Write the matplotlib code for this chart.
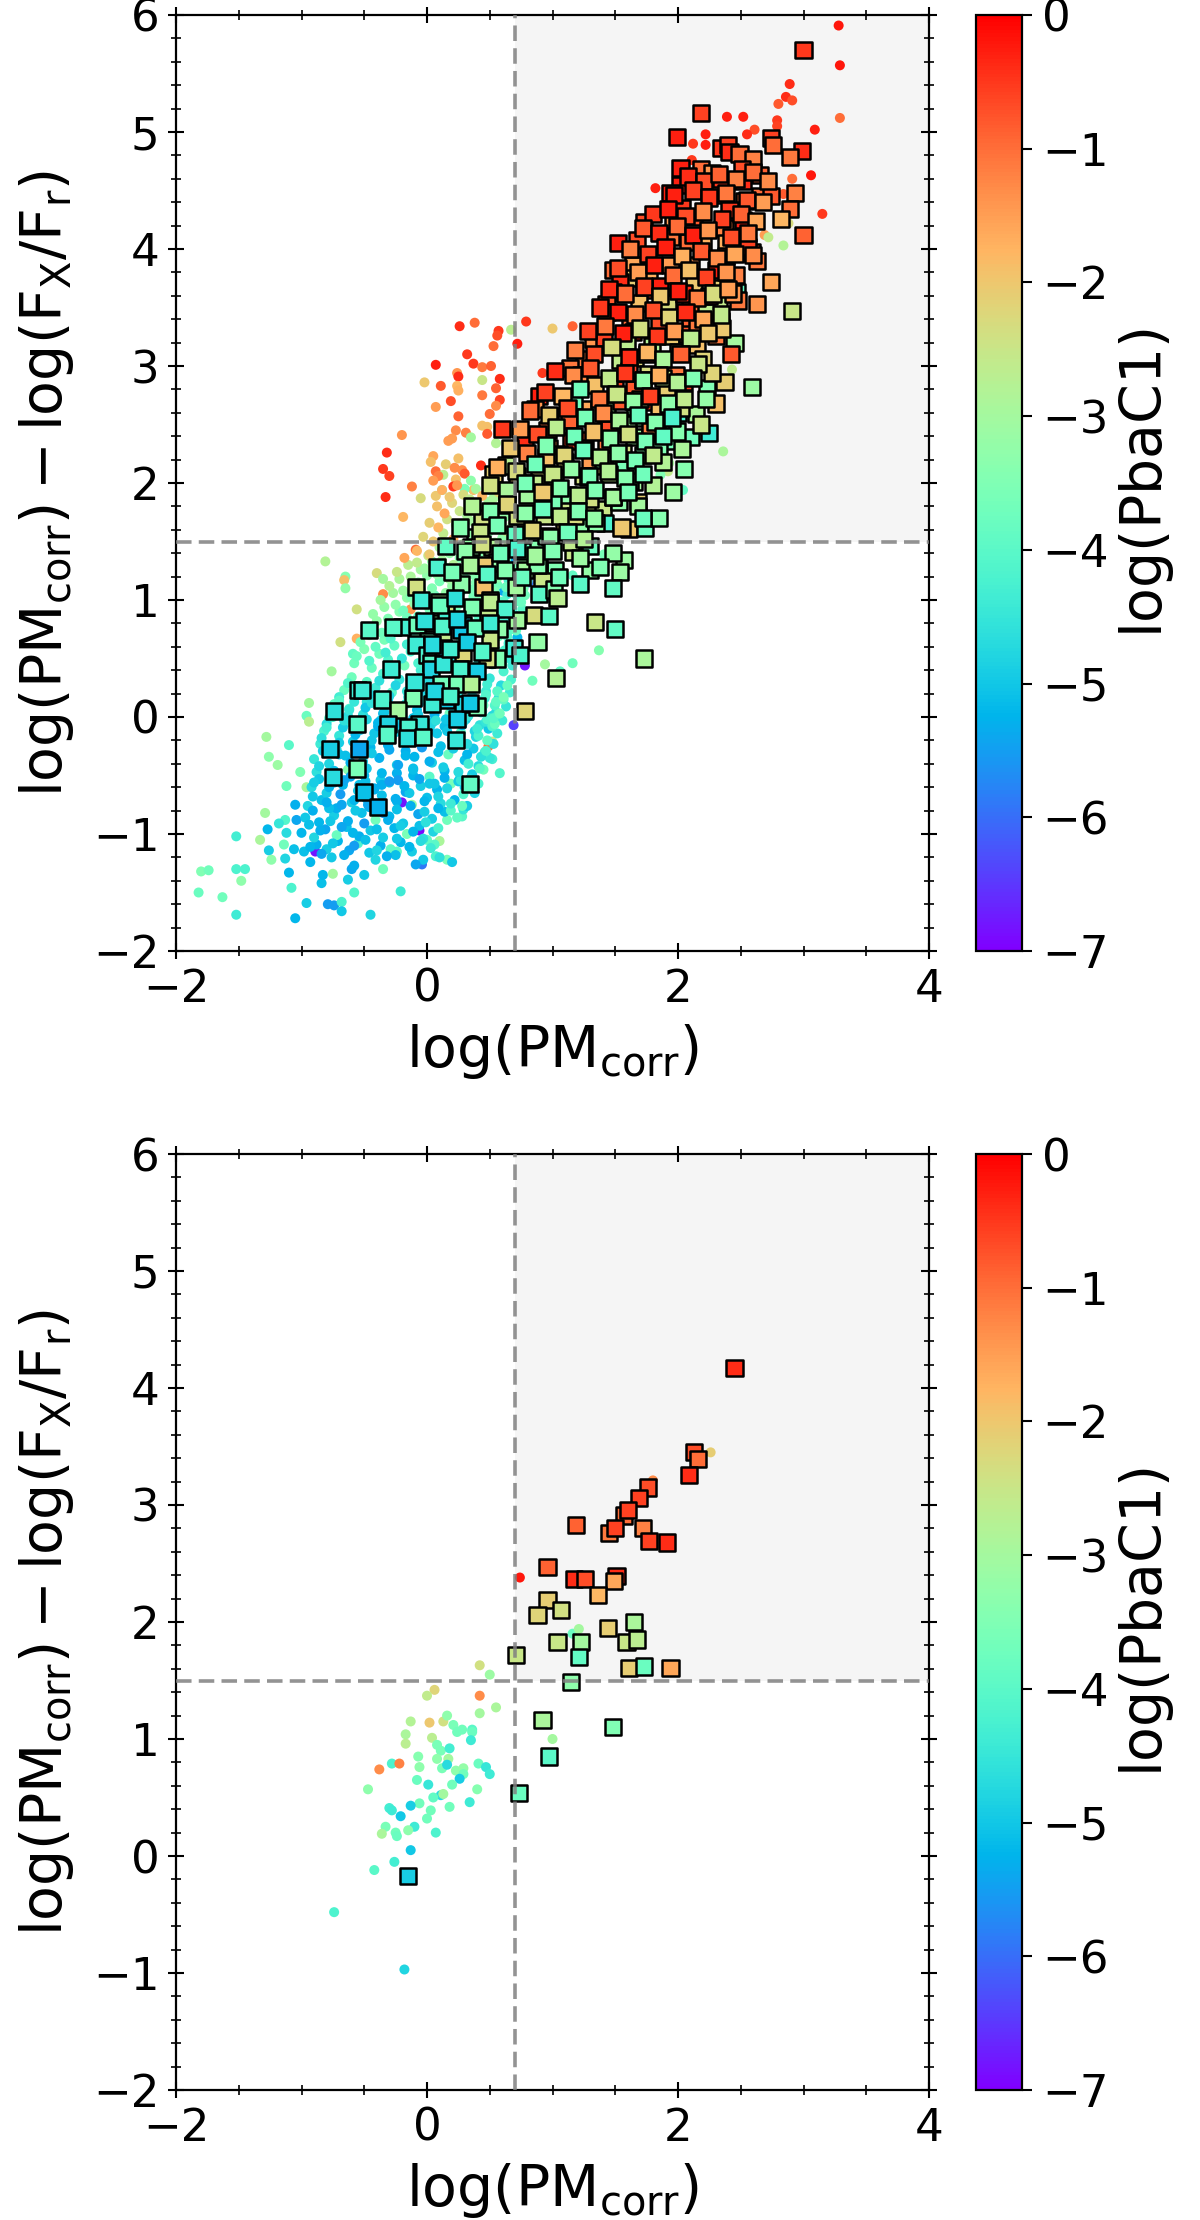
import matplotlib
matplotlib.use('Agg')
import matplotlib.pyplot as plt
from matplotlib.colors import Normalize
from matplotlib.cm import ScalarMappable
from matplotlib.ticker import MultipleLocator
from matplotlib.patches import Rectangle

plt.rcParams['mathtext.default'] = 'regular'
plt.rcParams['font.family'] = 'DejaVu Sans'

# ---- top panel: squares ----
top_sq_x = [3.0,2.18,1.99,2.74,2.76,2.99,2.89,2.34,2.40,2.41,2.49,2.60,2.02,2.18,2.27,2.51,2.65,2.34,2.52,2.02,1.94,2.29,2.53,2.65,2.93,2.74,2.03,2.89,2.41,2.13,1.96,2.82,2.52,1.73,2.37,3.0,1.67,1.52,1.94,2.08,2.38,2.2,2.59,2.38,2.63,1.48,1.64,1.77,1.94,2.1,2.3,2.46,1.65,1.54,1.86,2.13,2.33,2.74,2.47,1.73,1.48,1.43,1.92,2.1,1.69,2.33,2.63,2.48,2.91,1.43,1.62,1.91,2.10,2.22,2.34,1.64,1.32,1.41,1.59,1.79,1.94,2.07,2.15,2.30,2.45,1.25,1.66,1.54,1.14,1.23,1.61,1.76,1.98,1.34,2.37,2.23,2.59,1.5,1.65,1.91,0.89,2.30,1.76,1.91,0.86,1.24,1.43,1.17,1.66,2.14,2.0,0.98,1.13,1.56,0.60,0.76,1.83,1.43,0.96,2.25,2.1,1.65,1.26,1.15,1.43,0.78,1.95,1.75,0.97,1.85,2.03,1.05,1.3,1.54,1.41,0.63,0.53,0.89,1.02,1.24,1.65,0.72,
 0.44,0.38,0.35,0.52,0.64,0.78,0.93,1.10,1.29,1.40,1.53,1.68,1.61,1.74,1.42,1.22,1.09,0.87,0.76,0.56,0.45,1.16,1.57,1.54,1.30,1.02,0.89,0.78,0.27,-0.09,0.45,0.71,0.92,1.22,1.48,0.89,1.01,1.04,0.5,0.15,0.10,0.49,0.85,0.97,0.03,0.15,0.29,-0.2,-0.27,-0.46,-0.08,0.27,0.13,0.57,0.72,1.34,1.5,0.88,0.5,0.69,0.74,0.01,-0.09,0.13,0.29,0,0.56,0.48,1.73,0.03,-0.29,0.03,0.13,0.26,0.4,1.03,0.11,0.24,0.35,-0.55,-0.52,-0.36,-0.11,0.15,0.04,-0.23,0.29,0.40,0.78,-0.74,-0.56,-0.31,-0.06,-0.15,0.24,-0.32,-0.16,-0.03,0.23,-0.77,-0.54,-0.56,-0.75,0.34,-0.5,-0.39,
 2.05,2.25,2.44,2.56,1.85,2.15,2.35,2.60,1.75,2.0,2.2,2.42,1.72,1.88,2.05,2.27,1.55,1.70,1.85,2.02,2.22,1.45,1.60,1.78,1.99,2.18,1.25,1.40,1.56,1.72,1.88,2.05,1.10,1.28,1.45,1.62,1.80,1.96,0.95,1.12,1.30,1.48,1.68,1.85,0.85,1.00,1.18,1.35,1.55,1.72,0.80,0.95,1.15,1.30,1.48,0.72,0.88,1.05,1.22,1.38]
top_sq_y = [5.70,5.16,4.96,4.95,4.89,4.84,4.79,4.86,4.89,4.83,4.81,4.77,4.69,4.68,4.65,4.68,4.63,4.57,4.58,4.55,4.48,4.46,4.41,4.45,4.48,4.45,4.35,4.34,4.33,4.27,4.25,4.26,4.25,4.23,4.18,4.12,4.08,4.05,4.10,4.06,4.05,4.04,3.97,3.94,3.90,3.82,3.86,3.81,3.86,3.86,3.82,3.78,3.75,3.72,3.68,3.71,3.67,3.72,3.63,3.65,3.63,3.53,3.54,3.52,3.54,3.55,3.53,3.56,3.47,3.46,3.40,3.40,3.38,3.46,3.38,3.29,3.23,3.24,3.21,3.17,3.26,3.27,3.18,3.26,3.2,3.06,3.07,3.05,2.98,2.92,2.96,2.93,2.92,2.84,2.86,2.81,2.82,2.80,2.80,2.80,2.74,2.68,2.69,2.67,2.63,2.63,2.62,2.70,2.56,2.59,2.60,2.57,2.54,2.51,2.46,2.39,2.46,2.46,2.45,2.43,2.39,2.39,2.37,2.36,2.34,2.34,2.36,2.32,2.30,2.29,2.29,2.25,2.2,2.17,2.15,2.15,2.08,2.06,2.02,2.06,2.01,2.06,
 1.70,1.54,1.45,1.45,1.81,1.67,1.72,1.78,1.76,1.78,1.84,1.84,1.61,1.62,1.66,1.63,1.6,1.44,1.42,1.32,1.30,1.41,1.34,1.24,1.26,1.26,1.27,1.26,1.14,1.11,1.11,1.11,1.16,1.14,1.10,1.05,1.09,1.02,1.0,0.96,0.98,0.89,0.87,0.86,0.80,0.83,0.79,0.77,0.77,0.74,0.79,0.74,0.72,0.75,0.83,0.81,0.75,0.64,0.66,0.59,0.53,0.65,0.62,0.59,0.55,0.53,0.50,0.50,0.50,0.46,0.41,0.41,0.45,0.41,0.39,0.33,0.28,0.28,0.28,0.23,0.23,0.15,0.16,0.15,0.11,0.06,0.11,0.09,0.05,0.05,-0.06,-0.06,-0.06,-0.09,-0.02,-0.15,-0.18,-0.17,-0.2,-0.27,-0.27,-0.44,-0.51,-0.57,-0.64,-0.77,
 3.62,3.60,3.62,4.02,3.35,3.34,3.32,3.95,3.10,3.12,3.06,3.10,2.88,2.90,2.86,2.94,2.70,2.72,2.66,2.64,2.72,2.46,2.50,2.48,2.44,2.50,2.30,2.20,2.26,2.24,2.18,2.12,2.18,2.05,2.08,2.02,1.98,1.92,2.22,1.90,1.86,1.88,1.80,1.70,2.00,1.85,1.72,1.66,1.62,1.70,1.90,1.55,1.50,1.46,1.40,1.72,1.30,1.20,1.36,1.28]
top_sq_c = [-0.5,-0.6,-0.3,-0.6,-1.0,-0.4,-1.1,-0.5,-0.6,-0.4,-1.0,-1.2,-0.3,-1.0,-1.4,-0.7,-0.9,-0.5,-0.4,-0.3,-0.3,-1.3,-1.0,-1.0,-1.2,-0.8,-0.5,-1.0,-0.5,-0.8,-1.5,-1.8,-0.3,-0.7,-1.2,-0.9,-0.7,-0.3,-1.1,-1.0,-1.7,-1.7,-0.6,-0.8,-1.1,-1.0,-1.6,-1.7,-1.5,-1.4,-0.3,-1.2,-2.1,-0.4,-0.3,-2,-2.1,-1.6,-3.9,-0.5,-1.0,-0.8,-2.3,-1.0,-1.9,-2.6,-1.4,-1.1,-2.5,-1.5,-1.0,-2.5,-0.9,-2.7,-0.4,-0.3,-1.4,-0.6,-2.7,-2.8,-2.0,-0.8,-1.9,-1.1,-3.0,-1.1,-2.2,-2.6,-1.1,-1.3,-0.6,-2.3,-1.1,-1.9,-2.1,-3.5,-3.1,-0.6,-0.8,-2.1,-0.3,-1.9,-0.6,-0.3,-1.4,-1.6,-3.0,-3.7,-3.3,-2.9,-4.2,-0.8,-0.9,-2.3,-0.5,-1.2,-3.5,-3.0,-1.0,-4.4,-3.7,-3.1,-0.7,-0.5,-1.1,-0.4,-3.6,-3.2,-1.2,-3.5,-2.9,-3.9,-1.5,-3.6,-2.1,-2.7,-2.1,-2.2,-3.3,-2.4,-3,-2.0,
 -2.4,-3.2,-3.2,-2.8,-2.2,-1.9,-2.5,-2.5,-2.3,-2.5,-3.3,-2.1,-2.0,-3.8,-4.2,-3.3,-2.0,-3.4,-3.8,-3.2,-2.0,-2.5,-3.1,-3.1,-3.2,-3.5,-3.5,-3,-3.3,-2.4,-1.9,-3.0,-2.5,-4.0,-3.9,-4.0,-3.4,-2.7,-2.2,-2.4,-2.8,-2.6,-2.3,-4.0,-3.2,-4.3,-5,-4.3,-4,-4.0,-3.7,-5.0,-2.6,-3.3,-3.0,-2.5,-3.9,-3.2,-2.5,-4.4,-4.2,-3.7,-4.4,-5.0,-2.2,-4.2,-3.5,-2.4,-2.9,-4,-4.4,-4.8,-4.5,-4.2,-4.9,-2.8,-3.7,-3.6,-2.8,-4.4,-4.4,-4.2,-3.5,-5.0,-4.4,-3.0,-4.8,-3.5,-2.2,-4.6,-4.0,-4.8,-4.5,-4.2,-4.9,-4.0,-4.6,-4.0,-4.5,-4.9,-5.4,-3.6,-4.7,-3.9,-5.1,-5.3,
 -0.4,-0.9,-1.4,-0.6,-0.7,-1.1,-2.0,-1.3,-0.5,-1.6,-2.2,-0.8,-1.2,-2.6,-0.6,-2.2,-0.8,-2.8,-1.9,-2.4,-3.2,-0.7,-3.0,-1.2,-3.4,-2.5,-1.5,-3.2,-2.4,-3.5,-2.8,-3.4,-2.2,-3.0,-2.6,-3.6,-2.8,-3.1,-1.9,-3.3,-2.4,-3.7,-3.0,-3.4,-2.6,-3.6,-2.3,-3.3,-2.0,-3.8,-3.0,-3.5,-2.6,-3.8,-3.2,-2.4,-3.4,-3.7,-3.1,-3.5]

# more squares of the dense band, read row by row
band_sq_x = [2.08,2.21,2.33,2.46,2.60,2.72,
 1.97,2.12,2.25,2.38,2.55,2.68,
 1.80,1.92,2.06,2.20,2.35,2.50,2.62,
 1.72,1.85,1.99,2.12,2.24,2.42,2.56,
 1.62,1.76,1.90,2.03,2.18,2.31,2.45,
 1.52,1.68,1.81,1.96,2.09,2.22,2.38,
 1.45,1.58,1.73,1.86,2.00,2.15,2.28,2.40,
 1.38,1.52,1.66,1.80,1.93,2.06,2.20,2.34,
 1.28,1.42,1.56,1.70,1.83,1.97,2.10,2.24,
 1.18,1.33,1.47,1.61,1.75,1.88,2.02,2.16,
 1.02,1.16,1.30,1.45,1.58,1.72,1.85,1.99,2.12,
 0.94,1.08,1.22,1.37,1.51,1.64,1.78,1.92,2.05,
 0.82,0.97,1.12,1.26,1.40,1.53,1.68,1.82,1.95,
 0.74,0.88,1.03,1.17,1.32,1.46,1.60,1.74,1.88,
 0.66,0.80,0.95,1.09,1.24,1.38,1.52,1.66,1.80,
 0.56,0.71,0.86,1.00,1.15,1.29,1.44,1.58,1.72,
 0.50,0.64,0.78,0.92,1.06,1.20,1.34,1.48,1.60,
 0.36,0.50,0.64,0.78,0.92,1.06,1.20,1.33,
 0.26,0.42,0.56,0.70,0.84,0.98,1.12,1.25,
 0.15,0.30,0.44,0.58,0.72,0.86,1.00,
 0.08,0.20,0.34,0.48,0.62,0.76,
 -0.05,0.10,0.22,0.36,0.50,0.62,
 -0.02,0.12,0.24,0.38,0.50,
 0.04,0.18,0.32,0.44,
 -0.10,0.06,0.18,0.34]
band_sq_y = [4.62,4.58,4.64,4.60,4.66,4.58,
 4.46,4.50,4.44,4.48,4.42,4.40,
 4.30,4.34,4.28,4.32,4.26,4.30,4.24,
 4.18,4.14,4.20,4.12,4.16,4.10,4.14,
 4.00,3.96,4.02,3.94,3.98,3.92,3.96,
 3.84,3.80,3.86,3.78,3.82,3.76,3.80,
 3.66,3.62,3.68,3.60,3.64,3.58,3.62,3.66,
 3.50,3.46,3.44,3.48,3.42,3.46,3.40,3.44,
 3.30,3.34,3.28,3.32,3.26,3.30,3.24,3.28,
 3.14,3.10,3.16,3.08,3.12,3.06,3.10,3.02,
 2.96,2.92,2.98,2.90,2.94,2.88,2.92,2.86,2.90,
 2.78,2.74,2.80,2.72,2.76,2.70,2.74,2.68,2.72,
 2.62,2.58,2.64,2.56,2.60,2.54,2.58,2.52,2.56,
 2.46,2.42,2.48,2.40,2.44,2.38,2.42,2.36,2.40,
 2.30,2.26,2.32,2.24,2.28,2.22,2.26,2.20,2.24,
 2.14,2.10,2.16,2.08,2.12,2.06,2.10,2.04,2.08,
 1.98,1.94,2.00,1.92,1.96,1.90,1.94,1.88,1.92,
 1.80,1.76,1.82,1.74,1.78,1.72,1.76,1.70,
 1.62,1.58,1.64,1.56,1.60,1.54,1.58,1.52,
 1.46,1.42,1.48,1.40,1.44,1.38,1.42,
 1.28,1.24,1.30,1.22,1.26,1.20,
 1.00,0.96,1.02,0.94,0.98,0.92,
 0.82,0.78,0.84,0.76,0.80,
 0.62,0.58,0.64,0.56,
 0.30,0.22,0.18,0.12]
band_sq_c = [-0.4,-0.7,-0.9,-1.2,-1.0,-1.3,
 -0.3,-0.6,-0.5,-1.1,-0.8,-1.5,
 -0.5,-0.3,-0.7,-1.3,-0.6,-0.9,-1.6,
 -0.8,-0.4,-1.0,-0.3,-1.4,-0.7,-1.1,
 -1.2,-0.6,-0.3,-1.7,-0.8,-1.3,-1.6,
 -0.7,-1.5,-0.3,-1.0,-1.9,-0.6,-1.4,
 -0.4,-1.0,-0.6,-2.0,-0.3,-1.2,-2.3,-1.5,
 -0.5,-0.3,-1.3,-0.7,-2.2,-0.4,-1.6,-2.6,
 -0.6,-1.1,-0.3,-2.4,-0.5,-1.5,-2.7,-2.0,
 -1.2,-0.7,-2.3,-0.4,-1.8,-2.9,-0.9,-2.5,
 -0.4,-1.3,-0.8,-2.6,-0.5,-3.3,-1.7,-2.8,-3.5,
 -0.6,-1.8,-3.7,-1.1,-2.5,-3.2,-0.6,-3.3,-2.6,
 -1.0,-2.1,-0.7,-3.6,-1.3,-2.9,-3.8,-3.4,-4.2,
 -1.5,-0.7,-2.7,-3.7,-1.9,-3.3,-2.4,-3.6,-3.9,
 -2.0,-1.2,-3.5,-2.2,-3.8,-2.8,-3.3,-3.6,-2.6,
 -1.7,-2.3,-3.7,-2.5,-3.2,-3.6,-2.8,-3.4,-3.7,
 -2.4,-2.9,-3.6,-2.0,-3.4,-2.7,-3.5,-3.0,-3.6,
 -2.8,-3.5,-2.2,-3.3,-3.8,-2.6,-3.5,-3.2,
 -3.4,-2.5,-3.6,-3.9,-2.2,-3.3,-3.7,-2.8,
 -3.9,-3.3,-2.4,-3.7,-4.2,-3.0,-3.5,
 -4.2,-3.6,-2.9,-4.0,-3.4,-3.8,
 -4.4,-3.8,-4.6,-3.5,-2.7,-4.2,
 -4.6,-4.1,-4.8,-3.8,-4.4,
 -4.7,-4.3,-4.9,-4.1,
 -4.5,-4.8,-4.2,-5.0]

# ---- top panel: scattered circles ----
top_ci_x = [3.28,3.29,2.89,2.86,2.91,2.80,3.29,2.39,2.52,2.79,2.79,3.09,2.61,2.55,2.22,2.12,2.22,3.06,2.91,1.82,3.15,1.84,2.69,2.72,2.84,2.88,1.60,2.11,2.84,2.17,2.43,2.24,2.36,2.04,1.92,1.86,1.93,
 0.26,0.38,0.57,0.56,0.79,0.67,1.0,1.16,0.72,0.53,0.32,0.37,0.07,0.44,0.51,0.92,0.24,0.25,0.58,0.44,-0.02,0.11,0.55,0.24,0.25,0.44,0.58,0.19,0.55,0.07,0.50,0.25,0.44,0.48,0.23,0.31,-0.2,0.48,0.35,0.2,0.17,0.55,-0.32,0.05,0.25,0.03,0.15,0.43,-0.35,-0.3,0.07,0.22,0.28,0.3,0.13,0.09,0.05,0.23,0.35,-0.12,0.21,0.12,0.37,0.3,0.5,-0.33,-0.05,0.07,
 -0.81,-0.65,-0.66,-0.65,-0.4,-0.35,-0.56,-0.69,-0.56,-0.59,-0.76,-0.94,-0.96,-0.94,-1.28,-1.10,-1.26,-1.19,-1.01,-1.12,-0.96,-1.29,-1.05,-1.04,-1.13,-1.18,-1.27,-1.52,-1.33,-1.12,-1.14,-1.06,-1.26,-1.24,-1.13,-0.89,-1.80,-1.74,-1.52,-1.45,-1.48,-1.82,-1.63,-1.52,-1.10,-1.08,-0.96,-1.05,-0.79,-0.74,-0.68,-0.68,-0.58,-0.63,-0.84,-0.83,-0.75,-0.60,-0.5,-0.35,-0.45,-0.21,-0.04,-0.03,0.07,0.16,0,0.1,0.06,-0.06,-0.24,-0.2,0.16,0.28,0.29,0.58,0.52,0.49,0.52,0.69,0.84,0.94,1.06,1.16,1.37,0.78,1.41,1.16,0.81,0.6,0.63,-0.09,-0.13,-0.35,-0.19]
top_ci_y = [5.91,5.57,5.41,5.30,5.27,5.24,5.12,5.13,5.13,5.10,5.05,5.02,5.02,4.98,4.98,4.90,4.89,4.63,4.60,4.52,4.30,4.16,4.12,4.10,4.03,4.22,3.97,4.76,4.47,3.03,2.97,2.93,2.27,1.94,2.1,2.07,2.17,
 3.34,3.37,3.30,3.26,3.38,3.31,3.32,3.34,3.19,3.17,3.10,3.02,3.01,2.99,3.0,2.94,2.94,2.91,2.89,2.88,2.86,2.83,2.81,2.83,2.79,2.75,2.71,2.70,2.66,2.65,2.59,2.57,2.49,2.48,2.45,2.43,2.41,2.42,2.39,2.38,2.36,2.34,2.26,2.23,2.21,2.18,2.16,2.15,2.12,2.06,2.10,2.13,2.11,2.08,2.07,2.06,2.02,2.03,2.02,1.97,1.97,1.94,1.94,1.95,1.94,1.88,1.87,1.89,
 1.33,1.2,1.17,1.10,1.23,1.18,0.92,0.64,0.67,0.54,0.39,0.12,0.01,-0.04,-0.17,-0.24,-0.34,-0.41,-0.47,-0.59,-0.6,-0.82,-0.75,-0.88,-0.88,-0.91,-0.96,-1.02,-1.05,-0.99,-1.09,-1.13,-1.14,-1.22,-1.21,-1.15,-1.32,-1.31,-1.30,-1.30,-1.40,-1.50,-1.54,-1.69,-1.33,-1.46,-1.59,-1.72,-1.60,-1.61,-1.58,-1.66,-1.50,-1.39,-1.42,-1.35,-1.34,-1.30,-1.35,-1.30,-1.69,-1.49,-1.26,-1.22,-1.19,-1.22,-1.05,-1.06,-1.09,-0.97,-1.15,-0.73,-0.88,-0.85,-0.79,-0.48,-0.36,-0.25,-0.21,-0.07,0.31,0.45,0.39,0.46,0.57,0.44,1.39,1.21,1.15,1.08,1.59,1.43,0.92,1.05,1.71]
top_ci_c = [-0.2,-0.2,-0.4,-0.4,-0.7,-0.8,-1.0,-0.3,-0.3,-0.5,-0.6,-0.3,-0.7,-0.4,-0.3,-0.5,-0.3,-0.2,-1.0,-0.3,-0.5,-0.4,-1.5,-2.6,-2.8,-2.3,-0.3,-0.5,-0.8,-2.6,-2.6,-2.5,-2.9,-3.9,-2.6,-3.5,-3.0,
 -0.4,-1.0,-0.5,-0.7,-0.5,-2.7,-2.0,-0.9,-0.3,-1.0,-0.5,-0.5,-0.3,-1.1,-0.9,-0.5,-1.4,-0.4,-0.4,-2.5,-2.0,-0.8,-0.9,-1.8,-1.7,-1.1,-0.6,-0.7,-1.3,-1.5,-1.0,-0.9,-1.9,-1.9,-1.3,-1.2,-1.4,-0.8,-3.0,-1.5,-1.5,-2.8,-0.4,-1.6,-1.9,-1.9,-2.1,-0.4,-0.5,-0.6,-1.0,-1.3,-1.3,-0.8,-2.7,-1.2,-1.5,-1.9,-3.3,-1.2,-0.5,-3.9,-1.9,-3.6,-4.3,-0.4,-2.3,-2.0,
 -2.8,-3.4,-1.9,-3.2,-2.3,-3.0,-2.4,-2.4,-1.7,-3.9,-3.0,-3.0,-3.8,-2.7,-3.0,-4.0,-3.3,-3.1,-3.5,-3.7,-2.9,-3.0,-5.3,-5.4,-4.1,-4.5,-5.2,-4.3,-2.9,-4.7,-3.7,-5.1,-4.9,-3.3,-4.8,-6.8,-3.5,-3.7,-4.2,-4.2,-3.3,-3.8,-3.7,-4.4,-5.2,-4.2,-4.9,-5.2,-5.5,-5.5,-4.2,-5.0,-4.1,-4.9,-5.1,-5.2,-3.0,-5.4,-5.0,-3.7,-4.8,-4.4,-5.9,-5.0,-4.2,-3.6,-3.9,-2.9,-4.0,-6.9,-3.9,-6.8,-3.7,-4.0,-4.5,-4.1,-4.3,-1.0,-2.5,-6.4,-3.7,-3.0,-3.9,-3.7,-3.4,-6.8,-3.6,-3.9,-5.9,-5.4,-5.4,-1.0,-1.4,-1.3,-1.8]

# ---- top panel: dense cloud of circles, read row by row ----
cloud_x = [-0.98,-0.88,-0.80,-0.71,-0.62,-0.55,-0.46,-0.37,-0.29,-0.21,-0.12,-0.03,
 -1.00,-0.90,-0.81,-0.72,-0.64,-0.54,-0.45,-0.35,-0.26,-0.16,-0.06,0.05,
 -0.97,-0.86,-0.74,-0.63,-0.52,-0.41,-0.30,-0.19,-0.07,0.04,0.14,0.24,
 -0.95,-0.84,-0.72,-0.60,-0.48,-0.36,-0.24,-0.12,0.00,0.11,0.22,0.32,
 -0.92,-0.80,-0.67,-0.55,-0.42,-0.30,-0.17,-0.05,0.08,0.19,0.30,0.38,
 -0.88,-0.76,-0.63,-0.50,-0.37,-0.24,-0.11,0.02,0.14,0.26,0.36,0.45,
 -0.90,-0.78,-0.65,-0.51,-0.38,-0.24,-0.10,0.04,0.17,0.30,0.41,0.50,
 -0.85,-0.72,-0.59,-0.45,-0.31,-0.17,-0.03,0.11,0.24,0.37,0.46,0.53,
 -0.82,-0.70,-0.56,-0.42,-0.28,-0.14,0.00,0.14,0.27,0.39,0.49,0.56,
 -0.78,-0.65,-0.51,-0.37,-0.23,-0.09,0.05,0.18,0.31,0.42,0.52,0.60,
 -0.74,-0.62,-0.48,-0.34,-0.20,-0.06,0.08,0.21,0.34,0.45,0.55,0.63,
 -0.66,-0.54,-0.41,-0.28,-0.15,-0.02,0.11,0.24,0.36,0.47,0.57,0.66,
 -0.60,-0.48,-0.35,-0.22,-0.09,0.04,0.16,0.28,0.39,0.50,0.59,0.67,
 -0.58,-0.44,-0.31,-0.18,-0.05,0.08,0.20,0.31,0.42,0.52,0.61,0.68,
 -0.50,-0.38,-0.26,-0.13,0.00,0.12,0.24,0.35,0.46,0.55,0.63,0.70,
 -0.46,-0.34,-0.22,-0.09,0.04,0.16,0.27,0.38,0.48,0.57,0.65,0.72,
 -0.40,-0.28,-0.16,-0.04,0.08,0.20,0.31,0.41,0.51,0.60,0.67,0.74,
 -0.34,-0.22,-0.10,0.02,0.13,0.24,0.34,0.44,0.53,0.62,0.70,0.76,
 -0.27,-0.16,-0.05,0.06,0.17,0.27,0.37,0.46,0.55,0.64,0.72,0.78,
 -0.22,-0.11,0.00,0.10,0.20,0.30,0.39,0.48,0.56,0.65,0.72,0.80,
 -0.15,-0.05,0.04,0.14,0.23,0.32,0.41,0.49,0.57,0.64,0.70,0.76,
 -0.08,0.01,0.10,0.18,0.26,0.34,0.42,0.49,0.55,0.61,0.67,0.72,
 -0.03,0.05,0.13,0.21,0.29,0.36,0.43,0.49,0.54,0.60,0.65,0.70,
 0.02,0.09,0.16,0.23,0.30,0.37,0.43,0.48,0.53,0.58,0.63,0.68,
 0.08,0.14,0.20,0.26,0.32,0.38,0.44,0.49,0.54,0.58,0.62,0.66,
 0.12,0.18,0.24,0.29,0.34,0.39,0.44,0.49,0.53,0.57,0.61,0.64,
 -0.93,-0.76,-0.58,-0.41,-0.25,-0.09,0.10,0.20,
 -0.91,-0.78,-0.68,-0.57,-0.46,-0.35,-0.24,-0.13,-0.02,0.09,0.19,0.28,
 -0.86,-0.74,-0.61,-0.49,-0.36,-0.23,-0.11,0.02,0.14,0.25,0.34,0.41,
 -0.83,-0.70,-0.57,-0.44,-0.30,-0.17,-0.04,0.09,0.21,0.32,0.43,0.47,
 -0.80,-0.67,-0.53,-0.39,-0.25,-0.11,0.02,0.15,0.28,0.38,0.47,0.52,
 -0.76,-0.63,-0.49,-0.35,-0.21,-0.08,0.06,0.19,0.32,0.43,0.50,0.57,
 -0.70,-0.58,-0.45,-0.31,-0.17,-0.04,0.10,0.22,0.35,0.46,0.54,0.61,
 -0.63,-0.51,-0.38,-0.25,-0.12,0.01,0.14,0.26,0.37,0.48,0.56,0.64,
 -0.56,-0.46,-0.33,-0.20,-0.07,0.06,0.18,0.30,0.41,0.51,0.60,0.66,
 -0.53,-0.41,-0.29,-0.16,-0.02,0.10,0.22,0.33,0.44,0.53,0.62,0.69,
 -0.48,-0.36,-0.24,-0.11,0.02,0.14,0.25,0.36,0.47,0.56,0.64,0.71,
 -0.43,-0.31,-0.19,-0.07,0.06,0.18,0.29,0.39,0.49,0.58,0.66,0.73,
 -0.37,-0.25,-0.13,-0.01,0.11,0.22,0.32,0.42,0.52,0.61,0.68,0.75,
 -0.30,-0.19,-0.07,0.04,0.15,0.25,0.35,0.45,0.54,0.63,0.71,0.77,
 -0.24,-0.13,-0.02,0.08,0.18,0.28,0.38,0.47,0.56,0.64,0.71,0.79,
 -0.18,-0.08,0.02,0.12,0.21,0.31,0.40,0.48,0.56,0.63,0.71,0.77]
cloud_y = [-1.15,-1.09,-1.13,-1.06,-1.14,-1.08,-1.16,-1.10,-1.13,-1.07,-1.15,-1.04,
 -0.99,-1.03,-0.96,-1.01,-0.94,-1.02,-0.97,-1.03,-0.95,-1.00,-0.93,-0.98,
 -0.86,-0.90,-0.84,-0.89,-0.82,-0.88,-0.85,-0.91,-0.83,-0.87,-0.81,-0.86,
 -0.76,-0.71,-0.78,-0.73,-0.70,-0.77,-0.72,-0.75,-0.69,-0.74,-0.71,-0.76,
 -0.60,-0.65,-0.58,-0.63,-0.61,-0.56,-0.64,-0.59,-0.62,-0.57,-0.60,-0.65,
 -0.47,-0.52,-0.45,-0.50,-0.54,-0.48,-0.44,-0.51,-0.46,-0.53,-0.49,-0.45,
 -0.36,-0.40,-0.33,-0.38,-0.35,-0.41,-0.34,-0.39,-0.32,-0.37,-0.42,-0.35,
 -0.23,-0.28,-0.21,-0.26,-0.24,-0.29,-0.20,-0.25,-0.22,-0.27,-0.30,-0.23,
 -0.12,-0.16,-0.09,-0.14,-0.18,-0.11,-0.15,-0.08,-0.13,-0.17,-0.10,-0.14,
 -0.01,-0.05,0.02,-0.03,-0.06,0.00,-0.04,0.03,-0.02,-0.07,0.01,-0.03,
 0.11,0.07,0.13,0.09,0.05,0.12,0.08,0.14,0.06,0.10,0.04,0.09,
 0.23,0.19,0.25,0.21,0.17,0.24,0.20,0.26,0.18,0.22,0.16,0.21,
 0.34,0.30,0.37,0.32,0.28,0.35,0.31,0.38,0.29,0.33,0.27,0.32,
 0.46,0.42,0.49,0.44,0.40,0.47,0.43,0.50,0.41,0.45,0.39,0.44,
 0.58,0.54,0.61,0.56,0.52,0.59,0.55,0.62,0.53,0.57,0.51,0.56,
 0.70,0.66,0.73,0.68,0.64,0.71,0.67,0.74,0.65,0.69,0.63,0.68,
 0.82,0.78,0.85,0.80,0.76,0.83,0.79,0.86,0.77,0.81,0.75,0.80,
 0.94,0.90,0.97,0.92,0.88,0.95,0.91,0.98,0.89,0.93,0.87,0.92,
 1.06,1.02,1.09,1.04,1.00,1.07,1.03,1.10,1.01,1.05,0.99,1.04,
 1.18,1.14,1.21,1.16,1.12,1.19,1.15,1.22,1.13,1.17,1.11,1.16,
 1.30,1.26,1.33,1.28,1.24,1.31,1.27,1.34,1.25,1.29,1.23,1.28,
 1.42,1.38,1.45,1.40,1.36,1.43,1.39,1.46,1.37,1.41,1.35,1.40,
 1.54,1.50,1.57,1.52,1.48,1.55,1.51,1.58,1.49,1.53,1.47,1.52,
 1.66,1.62,1.69,1.64,1.60,1.67,1.63,1.70,1.61,1.65,1.59,1.64,
 1.80,1.74,1.83,1.76,1.72,1.81,1.75,1.84,1.73,1.78,1.71,1.77,
 1.94,1.88,1.98,1.90,1.86,1.95,1.89,2.00,1.87,1.92,1.85,1.91,
 -1.24,-1.20,-1.27,-1.22,-1.18,-1.26,-1.20,-1.24,
 -0.80,-0.78,-0.75,-0.80,-0.77,-0.82,-0.79,-0.76,-0.81,-0.78,-0.80,-0.76,
 -0.53,-0.56,-0.51,-0.55,-0.58,-0.54,-0.50,-0.57,-0.52,-0.55,-0.53,-0.57,
 -0.29,-0.32,-0.27,-0.31,-0.28,-0.33,-0.26,-0.30,-0.27,-0.32,-0.34,-0.29,
 -0.06,-0.09,-0.03,-0.08,-0.11,-0.05,-0.09,-0.02,-0.07,-0.12,-0.04,-0.08,
 0.05,0.01,0.08,0.03,-0.01,0.06,0.02,0.09,0.00,0.04,-0.01,0.03,
 0.17,0.13,0.19,0.15,0.11,0.18,0.14,0.20,0.12,0.16,0.10,0.15,
 0.29,0.25,0.31,0.27,0.23,0.30,0.26,0.32,0.24,0.28,0.22,0.27,
 0.52,0.48,0.55,0.50,0.46,0.53,0.49,0.56,0.47,0.51,0.45,0.50,
 0.64,0.60,0.67,0.62,0.58,0.65,0.61,0.68,0.59,0.63,0.57,0.62,
 0.76,0.72,0.79,0.74,0.70,0.77,0.73,0.80,0.71,0.75,0.69,0.74,
 0.88,0.84,0.91,0.86,0.82,0.89,0.85,0.92,0.83,0.87,0.81,0.86,
 1.00,0.96,1.03,0.98,0.94,1.01,0.97,1.04,0.95,0.99,0.93,0.98,
 1.12,1.08,1.15,1.10,1.06,1.13,1.09,1.16,1.07,1.11,1.05,1.10,
 1.24,1.20,1.27,1.22,1.18,1.25,1.21,1.28,1.19,1.23,1.17,1.22,
 1.36,1.32,1.39,1.34,1.30,1.37,1.33,1.40,1.31,1.35,1.29,1.34]
cloud_c = [-5.1,-5.3,-4.9,-5.2,-5.4,-4.2,-5.0,-5.3,-3.9,-5.2,-4.9,-4.6,
 -5.2,-4.8,-5.4,-3.8,-5.1,-5.3,-5.0,-4.9,-5.2,-3.6,-5.1,-4.8,
 -5.0,-5.2,-4.9,-5.3,-5.1,-3.7,-5.2,-5.0,-5.4,-4.9,-5.1,-3.9,
 -4.8,-5.1,-5.3,-4.9,-5.2,-5.0,-5.3,-3.2,-5.1,-4.7,-5.2,-4.9,
 -4.7,-4.9,-5.2,-5.0,-5.3,-5.1,-5.4,-4.9,-5.2,-3.6,-5.0,-4.8,
 -4.6,-5.0,-3.4,-5.2,-4.9,-5.3,-5.1,-4.0,-5.2,-4.8,-4.9,-3.7,
 -4.5,-4.8,-5.1,-4.9,-5.3,-5.0,-5.2,-4.9,-3.8,-5.1,-4.7,-4.5,
 -4.4,-4.7,-4.9,-5.2,-5.0,-5.3,-3.5,-5.1,-4.9,-5.0,-4.3,-4.6,
 -4.2,-4.5,-4.8,-5.0,-4.7,-5.2,-4.9,-5.1,-4.0,-4.8,-5.0,-4.4,
 -4.0,-4.3,-4.6,-4.9,-5.1,-4.7,-5.0,-3.7,-4.9,-4.6,-4.8,-4.4,
 -3.9,-4.2,-4.5,-4.7,-4.3,-4.9,-4.6,-4.8,-4.4,-3.8,-4.7,-4.5,
 -3.8,-4.1,-4.4,-4.0,-4.6,-4.3,-4.7,-4.5,-4.8,-4.4,-4.6,-4.3,
 -3.7,-3.9,-4.2,-4.5,-3.8,-4.4,-4.1,-4.6,-4.3,-4.5,-4.7,-4.2,
 -3.7,-3.8,-4.1,-3.7,-4.3,-4.0,-4.4,-4.2,-3.9,-4.5,-4.2,-4.4,
 -3.5,-3.7,-3.9,-4.2,-3.6,-4.1,-3.8,-4.3,-4.0,-4.2,-4.4,-4.5,
 -3.3,-3.6,-3.8,-3.5,-4.0,-3.7,-4.2,-3.9,-4.1,-3.8,-4.3,-5.2,
 -3.2,-3.4,-3.7,-3.9,-3.5,-4.1,-3.8,-4.0,-3.7,-4.2,-4.0,-5.5,
 -3.2,-3.4,-3.2,-3.6,-3.9,-3.6,-4.0,-3.7,-4.1,-3.8,-5.3,-4.0,
 -3.0,-3.2,-3.5,-3.7,-3.4,-3.9,-3.6,-4.1,-3.8,-4.4,-4.0,-3.7,
 -2.9,-3.1,-3.3,-3.6,-3.2,-3.8,-3.5,-4.0,-3.7,-4.2,-3.9,-3.6,
 -2.7,-3.0,-3.3,-3.5,-3.1,-3.6,-2.0,-3.8,-3.4,-5.2,-3.7,-3.3,
 -1.8,-2.5,-2.9,-3.2,-3.4,-2.4,-3.5,-3.1,-3.6,-3.3,-5.4,-3.5,
 -2.2,-2.0,-2.6,-1.7,-2.9,-3.2,-2.4,-3.4,-3.0,-3.3,-2.8,-3.2,
 -2.1,-1.8,-2.4,-2.7,-1.5,-3.0,-2.2,-3.1,-3.3,-2.9,-2.5,-3.0,
 -1.9,-1.6,-2.2,-2.5,-2.9,-1.4,-2.7,-3.0,-2.3,-2.8,-3.2,-2.9,
 -1.7,-2.0,-1.4,-2.3,-2.6,-3.0,-1.8,-2.5,-2.9,-2.2,-3.3,-3.1,
 -5.2,-5.0,-5.3,-4.8,-5.1,-5.4,-4.6,-5.0,
 -5.3,-5.1,-5.4,-5.0,-5.2,-5.5,-5.1,-5.3,-4.9,-5.2,-4.0,-3.8,
 -5.0,-5.2,-5.4,-5.1,-5.3,-5.5,-5.2,-5.0,-5.3,-4.9,-4.7,-4.2,
 -4.9,-5.1,-5.3,-5.0,-5.4,-5.2,-5.5,-5.1,-4.9,-5.2,-4.6,-4.2,
 -4.7,-4.9,-5.1,-5.3,-5.0,-5.2,-5.4,-5.0,-5.2,-4.8,-4.5,-4.1,
 -4.5,-4.7,-5.0,-5.2,-4.9,-5.1,-5.3,-4.9,-5.1,-4.6,-4.3,-4.0,
 -4.3,-4.5,-4.8,-5.0,-4.6,-5.0,-4.7,-4.9,-5.0,-4.4,-4.1,-3.9,
 -4.1,-4.4,-4.6,-4.8,-4.5,-4.7,-4.9,-4.6,-4.8,-4.3,-4.0,-3.8,
 -3.8,-4.1,-4.3,-4.5,-4.2,-4.4,-4.6,-4.3,-4.5,-4.2,-4.0,-4.4,
 -3.6,-3.9,-4.1,-4.3,-4.0,-4.2,-4.4,-4.1,-4.3,-4.0,-4.2,-4.5,
 -3.4,-3.7,-3.9,-4.1,-3.8,-4.0,-4.2,-3.9,-4.1,-4.3,-4.0,-3.8,
 -3.2,-3.5,-3.7,-3.9,-3.6,-3.8,-4.0,-3.7,-3.9,-4.2,-4.4,-3.9,
 -3.0,-3.3,-3.5,-3.7,-3.4,-3.6,-3.8,-3.5,-3.7,-4.0,-4.2,-3.8,
 -2.8,-3.1,-3.3,-3.5,-3.2,-3.4,-3.6,-3.3,-3.5,-3.8,-4.0,-3.6,
 -2.5,-2.9,-3.1,-3.3,-3.0,-3.2,-3.4,-3.1,-3.3,-3.6,-3.8,-3.4,
 -1.6,-2.6,-2.0,-3.0,-2.8,-3.1,-3.3,-2.9,-3.1,-3.4,-3.6,-3.2]

# lower part of the cloud, where the circles overlap most
lower_x = [-0.93,-0.84,-0.75,-0.66,-0.58,-0.49,-0.40,-0.32,-0.24,-0.14,-0.05,0.03,
 -0.94,-0.85,-0.77,-0.68,-0.59,-0.50,-0.40,-0.31,-0.21,-0.11,-0.01,0.09,
 -0.91,-0.80,-0.69,-0.58,-0.47,-0.36,-0.25,-0.14,-0.02,0.09,0.19,0.29,
 -0.90,-0.78,-0.66,-0.54,-0.42,-0.30,-0.18,-0.06,0.06,0.16,0.27,0.35,
 -0.86,-0.74,-0.61,-0.48,-0.36,-0.23,-0.11,0.02,0.13,0.25,0.33,0.42,
 -0.84,-0.70,-0.57,-0.44,-0.31,-0.18,-0.05,0.08,0.20,0.32,0.41,0.48,
 -0.80,-0.66,-0.53,-0.39,-0.25,-0.11,0.03,0.16,0.29,0.40,0.48,0.54,
 -0.75,-0.62,-0.48,-0.34,-0.20,-0.07,0.07,0.21,0.33,0.44,0.53,0.58,
 -0.70,-0.57,-0.44,-0.30,-0.16,-0.03,0.12,0.25,0.36,0.47,0.55,0.61]
lower_y = [-1.11,-1.17,-1.08,-1.18,-1.10,-1.05,-1.14,-1.19,-1.04,-1.11,-1.06,-1.12,
 -0.92,-0.97,-0.89,-0.94,-0.99,-0.91,-0.96,-0.88,-0.93,-0.98,-0.90,-0.95,
 -0.68,-0.73,-0.66,-0.71,-0.75,-0.67,-0.70,-0.65,-0.72,-0.68,-0.74,-0.66,
 -0.56,-0.60,-0.54,-0.58,-0.62,-0.55,-0.59,-0.53,-0.57,-0.61,-0.54,-0.58,
 -0.42,-0.46,-0.39,-0.44,-0.48,-0.41,-0.45,-0.38,-0.43,-0.47,-0.40,-0.44,
 -0.18,-0.22,-0.15,-0.20,-0.24,-0.17,-0.21,-0.14,-0.19,-0.23,-0.16,-0.20,
 -0.09,-0.03,-0.11,-0.05,-0.13,-0.01,-0.07,-0.12,-0.04,-0.10,-0.02,-0.06,
 0.00,0.06,-0.02,0.04,0.08,0.02,-0.03,0.07,0.01,0.05,-0.01,0.03,
 0.14,0.20,0.12,0.18,0.22,0.16,0.11,0.21,0.15,0.19,0.13,0.17]
lower_c = [-5.2,-5.4,-5.0,-5.3,-5.5,-5.1,-4.8,-5.3,-5.0,-5.2,-4.7,-4.4,
 -5.1,-5.3,-5.0,-5.4,-5.2,-5.5,-5.1,-5.3,-4.9,-5.2,-4.6,-4.2,
 -5.0,-5.3,-5.5,-5.2,-5.4,-5.1,-5.3,-5.0,-5.2,-4.8,-4.4,-4.1,
 -4.9,-5.2,-5.4,-5.1,-5.3,-5.5,-5.2,-5.4,-5.0,-4.8,-4.5,-4.2,
 -4.8,-5.1,-5.3,-5.0,-5.2,-5.4,-5.1,-5.3,-4.9,-4.7,-4.3,-4.0,
 -4.6,-4.9,-5.2,-5.0,-5.3,-5.1,-5.4,-5.0,-5.2,-4.7,-4.2,-3.9,
 -4.3,-4.6,-5.0,-5.2,-4.9,-5.1,-4.8,-5.0,-4.7,-4.4,-4.1,-3.8,
 -4.2,-4.5,-4.8,-5.0,-4.7,-4.9,-4.6,-4.8,-4.5,-4.3,-4.0,-3.7,
 -4.0,-4.3,-4.6,-4.8,-4.5,-4.7,-4.4,-4.6,-4.3,-4.1,-3.9,-3.6]

# ---- bottom panel ----
bot_sq_x = [2.45,2.13,2.16,2.09,1.76,1.69,1.57,1.60,1.19,1.45,1.50,1.72,1.77,1.91,0.96,1.17,1.26,1.51,1.49,1.36,0.96,1.07,0.88,1.04,1.23,1.21,1.44,1.65,1.59,1.67,0.71,1.61,1.73,1.94,1.15,0.92,1.48,0.97,0.73,-0.15]
bot_sq_y = [4.17,3.45,3.39,3.26,3.15,3.06,2.91,2.96,2.83,2.76,2.80,2.80,2.69,2.68,2.47,2.37,2.37,2.39,2.35,2.23,2.19,2.10,2.06,1.83,1.83,1.70,1.95,2.0,1.83,1.85,1.72,1.61,1.62,1.61,1.49,1.16,1.10,0.85,0.54,-0.17]
bot_sq_c = [-0.4,-0.7,-1.0,-0.4,-0.7,-0.6,-1.0,-0.6,-0.9,-1.1,-0.6,-1.2,-0.6,-0.4,-0.9,-0.4,-0.7,-0.4,-1.6,-1.8,-2.1,-2.4,-2.2,-2.5,-3.0,-3.9,-2.1,-2.9,-2.5,-2.7,-2.5,-2.1,-3.8,-1.6,-3.3,-2.9,-3.5,-4.0,-3.8,-4.9]

bot_ci_x = [0.74,2.26,1.80,1.16,1.21,0.42,0.50,0.06,0.0,0.42,0.55,0.42,-0.13,0.02,0.13,0.16,0.21,0.24,0.28,0.36,0.36,0.35,-0.17,-0.17,0.04,0.08,0.11,0.18,-0.07,0.08,0.17,-0.06,0.12,-0.38,-0.28,-0.22,0.16,0.23,0.29,0.29,0.41,0.47,0.50,0.26,0.2,-0.08,0.01,0.40,-0.47,0.11,0.13,0.05,0.34,-0.06,-0.13,-0.30,-0.28,0.18,0.03,-0.21,0.0,-0.33,-0.1,-0.15,-0.25,-0.36,-0.24,0.07,-0.13,-0.26,-0.42,-0.74,-0.18,1.0]
bot_ci_y = [2.38,3.45,3.21,1.90,1.94,1.63,1.55,1.42,1.37,1.37,1.27,1.22,1.15,1.14,1.15,1.20,1.12,1.06,1.08,1.08,1.06,0.99,1.04,0.96,1.01,0.95,0.90,0.92,0.85,0.83,0.83,0.76,0.75,0.74,0.79,0.79,0.78,0.73,0.75,0.70,0.79,0.76,0.70,0.66,0.61,0.65,0.61,0.57,0.57,0.52,0.53,0.50,0.46,0.45,0.43,0.41,0.39,0.42,0.39,0.34,0.32,0.25,0.25,0.22,0.20,0.19,0.17,0.20,0.05,-0.05,-0.12,-0.48,-0.97,1.00]
bot_ci_c = [-0.2,-2.1,-1.3,-3.8,-3.0,-2.4,-3.1,-2.2,-2.6,-1.3,-2.9,-3.0,-2.8,-2.0,-2.4,-3.3,-3.6,-3.7,-3.7,-4.0,-3.8,-4.4,-2.9,-2.7,-2.7,-3.6,-3.6,-4.3,-3.4,-3.3,-3.0,-3.3,-3.6,-1.3,-4.2,-1.2,-4.7,-3.3,-3.2,-3.7,-3.8,-4.5,-4.4,-4.9,-3.7,-3.8,-4.5,-3.4,-3.3,-4.7,-3.0,-3.9,-4.4,-3.7,-4.9,-4.3,-4.4,-3.7,-3.7,-5.0,-3.7,-3.6,-4.4,-3.3,-3.7,-2.9,-3.8,-4.2,-5.0,-4.3,-4.0,-4.2,-4.8,-3.0]

# ---- axes limits / ticks ----
x_limits = (-2, 4)
y_limits = (-2, 6)
x_cut = 0.7
y_cut = 1.5
x_ticks = [-2, 0, 2, 4]
y_ticks = [-2, -1, 0, 1, 2, 3, 4, 5, 6]
cbar_ticks = [-7, -6, -5, -4, -3, -2, -1, 0]

W, H = 1200, 2220
FS = 32.5
LS = 41
fig = plt.figure(figsize=(W / 100, H / 100), dpi=100)
norm = Normalize(-7, 0)
cmap = plt.get_cmap('rainbow')


def box(l, t, r, b):
    return [l / W, 1 - b / H, (r - l) / W, (b - t) / H]


def panel(top, bottom, ci_groups, sq_groups):
    ax = fig.add_axes(box(176, top, 929, bottom))
    ax.set_xlim(*x_limits)
    ax.set_ylim(*y_limits)
    ax.add_patch(Rectangle((x_cut, y_cut), x_limits[1] - x_cut, y_limits[1] - y_cut,
                           fc='whitesmoke', ec='none', zorder=0))
    for cx, cy, cc in ci_groups:
        ax.scatter(cx, cy, c=cc, cmap=cmap, norm=norm, s=52, marker='o', linewidths=0, zorder=2)
    for sx, sy, sc in sq_groups:
        ax.scatter(sx, sy, c=sc, cmap=cmap, norm=norm, s=135, marker='s',
                   edgecolors='k', linewidths=1.8, zorder=3)
    dash = (0, (4.3, 2.0))
    ax.axhline(y_cut, color='gray', ls=dash, lw=2.6, alpha=0.85, zorder=4)
    ax.axvline(x_cut, color='gray', ls=dash, lw=2.6, alpha=0.85, zorder=4)
    ax.set_xticks(x_ticks)
    ax.set_yticks(y_ticks)
    ax.xaxis.set_minor_locator(MultipleLocator(0.5))
    ax.yaxis.set_minor_locator(MultipleLocator(0.2))
    ax.tick_params(which='major', direction='inout', top=True, right=True, length=12, width=1.5,
                   labelsize=FS, pad=6)
    ax.tick_params(which='minor', direction='inout', top=True, right=True, length=7, width=1.2)
    for s in ax.spines.values():
        s.set_linewidth(1.6)
    ax.set_xlabel(r'$log(PM_{corr})$', fontsize=LS)
    ax.xaxis.set_label_coords(0.5, -0.076)
    ax.set_ylabel(r'$log(PM_{corr})-log(F_X/F_r)$', fontsize=LS)
    ax.yaxis.set_label_coords(-0.133, 0.5)
    cax = fig.add_axes(box(976, top, 1022, bottom))
    cb = fig.colorbar(ScalarMappable(norm=norm, cmap=cmap), cax=cax)
    cb.set_ticks(cbar_ticks)
    cb.outline.set_linewidth(1.6)
    cb.ax.tick_params(labelsize=FS, length=7.5, width=1.5, pad=7)
    cb.set_label(r'$log(PbaC1)$', fontsize=LS)
    cb.ax.yaxis.set_label_coords(3.07, 0.5)
    return ax


panel(15, 951, [(top_ci_x, top_ci_y, top_ci_c), (cloud_x, cloud_y, cloud_c), (lower_x, lower_y, lower_c)],
      [(top_sq_x, top_sq_y, top_sq_c), (band_sq_x, band_sq_y, band_sq_c)])
panel(1154, 2090, [(bot_ci_x, bot_ci_y, bot_ci_c)], [(bot_sq_x, bot_sq_y, bot_sq_c)])
fig.savefig('out.png', dpi=100)
